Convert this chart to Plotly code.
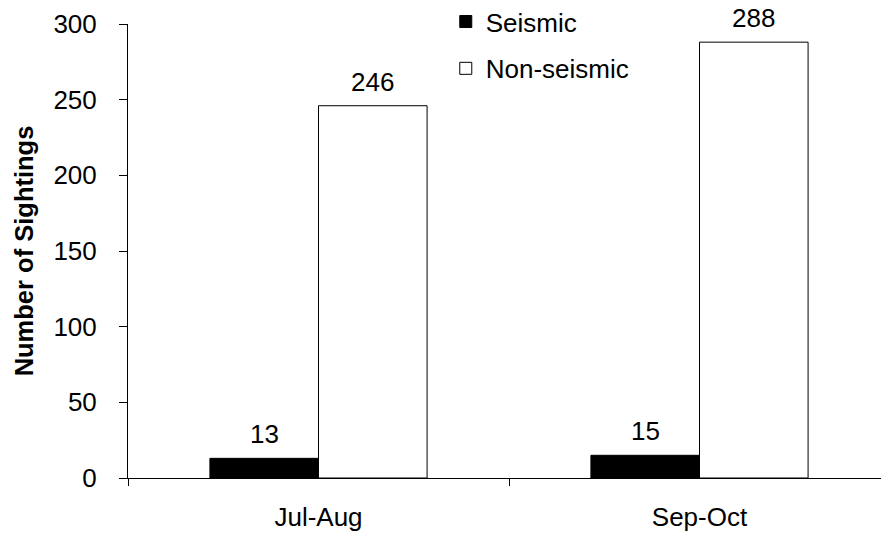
import plotly.graph_objects as go

categories = ["Jul-Aug", "Sep-Oct"]
seismic = [13, 15]
non_seismic = [246, 288]
y_ticks = [0, 50, 100, 150, 200, 250, 300]

FONT = "Arial, 'Liberation Sans', sans-serif"
FS = 26
BARGAP = 0.43
FIG_W, FIG_H = 881, 535
M_L, M_R, M_T, M_B = 128, 0, 24, 57
PLOT_W = FIG_W - M_L - M_R
CAT_PX = 381           # pixel width of one category slot
CAT_SPAN = PLOT_W / CAT_PX
bar_px = CAT_PX * (1 - BARGAP) / 2

fig = go.Figure()
fig.add_trace(go.Bar(
    name="Seismic", x=categories, y=seismic, legendgroup="a",
    marker=dict(color="black", line=dict(color="black", width=1)),
))
fig.add_trace(go.Bar(
    name="Non-seismic", x=categories, y=non_seismic, legendgroup="b",
    marker=dict(color="white", line=dict(color="black", width=1)),
))

annotations = []
for series, shift in ((seismic, -bar_px / 2), (non_seismic, bar_px / 2)):
    for cat, val in zip(categories, series):
        annotations.append(dict(
            x=cat, y=val, xref="x", yref="y", text=str(val), showarrow=False,
            xshift=shift, yshift=24, yanchor="middle", borderpad=0,
            font=dict(family=FONT, size=FS, color="black"),
        ))

fig.update_layout(
    width=FIG_W, height=FIG_H,
    margin=dict(l=M_L, r=M_R, t=M_T, b=M_B, autoexpand=False),
    paper_bgcolor="white", plot_bgcolor="white",
    barmode="group", bargap=BARGAP, bargroupgap=0,
    font=dict(family=FONT, size=FS, color="black"),
    showlegend=True,
    legend=dict(x=0.422, y=1.057, xanchor="left", yanchor="top",
                bgcolor="rgba(0,0,0,0)", itemwidth=30,
                font=dict(family=FONT, size=FS, color="black"),
                tracegroupgap=10, traceorder="grouped"),
    annotations=annotations,
)
fig.update_xaxes(
    type="category", range=[-0.5, -0.5 + CAT_SPAN],
    showline=True, linecolor="black", linewidth=1,
    ticks="outside", tickson="boundaries", ticklen=7, tickcolor="black",
    showgrid=False, zeroline=False, ticklabelstandoff=16,
    tickfont=dict(family=FONT, size=FS, color="black"),
)
fig.update_yaxes(
    range=[0, 300], tickvals=y_ticks,
    showline=True, linecolor="black", linewidth=1,
    ticks="outside", ticklen=8, tickcolor="black",
    showgrid=False, zeroline=False, ticklabelstandoff=17,
    tickfont=dict(family=FONT, size=FS, color="black"),
    title=dict(text="<b>Number of Sightings</b>", standoff=12,
               font=dict(family=FONT, size=25.5, color="black")),
)

fig.write_html(
    "out.html",
    config={"displayModeBar": False},
    post_script="document.body.style.margin='0';document.body.style.overflow='hidden';",
)
